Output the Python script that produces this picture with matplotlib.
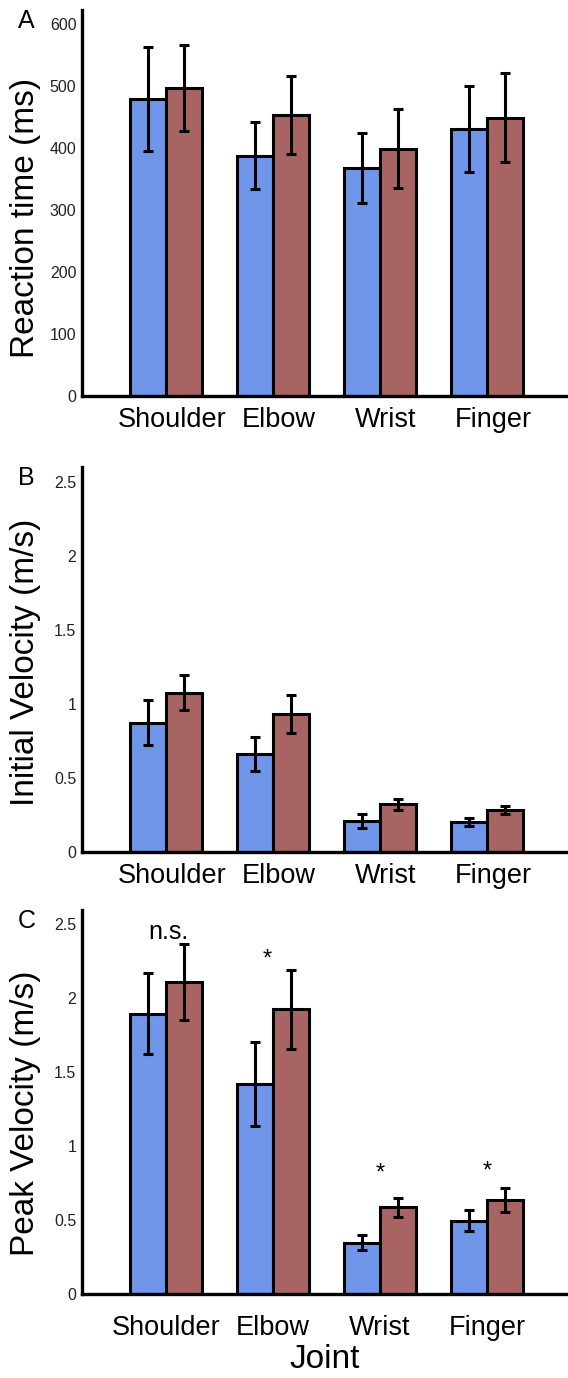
import matplotlib
matplotlib.use("Agg")
import matplotlib.pyplot as plt
import matplotlib.transforms as mtransforms
import numpy as np

plt.rcParams['font.family'] = ['Liberation Sans', 'DejaVu Sans']

# Joints and two conditions per joint
joints = ["Shoulder", "Elbow", "Wrist", "Finger"]

rt_blue = [478, 387, 367, 430]
rt_blue_err = [84, 54, 56, 70]
rt_red = [496, 452, 398, 448]
rt_red_err = [70, 63, 64, 72]

iv_blue = [0.872, 0.660, 0.209, 0.199]
iv_blue_err = [0.152, 0.118, 0.048, 0.028]
iv_red = [1.074, 0.930, 0.320, 0.282]
iv_red_err = [0.120, 0.130, 0.036, 0.025]

pv_blue = [1.896, 1.419, 0.349, 0.498]
pv_blue_err = [0.274, 0.283, 0.053, 0.073]
pv_red = [2.108, 1.926, 0.588, 0.637]
pv_red_err = [0.257, 0.267, 0.064, 0.079]

# significance marks for peak velocity (text, x in joint units, baseline y)
pv_marks = ["n.s.", "*", "*", "*"]
mark_x = [0.02, 0.944, 2.0, 3.0]
mark_y = [2.40, 2.222, 0.776, 0.789]

BLUE = "#7096ea"
RED = "#a86462"

W, H = 568, 1378
fig = plt.figure(figsize=(W / 100, H / 100), dpi=100)


def panel(rect, blue, blue_err, red, red_err, ylim, ticks, ticklabels,
          ylabel, letter, label_y=0.5):
    ax = fig.add_axes(rect)
    x = np.arange(len(joints))
    bw = 0.336
    common = dict(width=bw, edgecolor="black", linewidth=2.2, zorder=2)
    ax.bar(x - bw / 2, blue, color=BLUE, **common)
    ax.bar(x + bw / 2, red, color=RED, **common)
    eb = dict(fmt="none", ecolor="black", elinewidth=2.2, capsize=3.6, capthick=2.2, zorder=3)
    ax.errorbar(x - bw / 2, blue, yerr=blue_err, **eb)
    ax.errorbar(x + bw / 2, red, yerr=red_err, **eb)
    ax.set_xlim(-0.785, 3.757)
    ax.set_ylim(*ylim)
    ax.set_yticks(ticks)
    ax.set_yticklabels(ticklabels, fontsize=11.5)
    ax.tick_params(axis="y", length=0, pad=4, colors="#222222")
    ax.set_xticks(x)
    ax.set_xticklabels(joints, fontsize=19.5)
    ax.tick_params(axis="x", length=0, pad=8)
    shift = mtransforms.ScaledTranslation(6 / 100, 0, fig.dpi_scale_trans)
    for lab in ax.get_xticklabels():
        lab.set_transform(lab.get_transform() + shift)
    for s in ("top", "right"):
        ax.spines[s].set_visible(False)
    for s in ("left", "bottom"):
        ax.spines[s].set_linewidth(2.4)
    ax.set_ylabel(ylabel, fontsize=24)
    ax.yaxis.set_label_coords(-0.084, label_y)
    fig.text(0.047, rect[1] + rect[3] - 0.008, letter, fontsize=18, ha="center", va="center")
    return ax


axA = panel([82 / W, 1 - 395.5 / H, 1 - 82 / W, 385.5 / H],
            rt_blue, rt_blue_err, rt_red, rt_red_err,
            (0, 622), [0, 100, 200, 300, 400, 500, 600],
            ["0", "100", "200", "300", "400", "500", "600"],
            "Reaction time (ms)", "A", label_y=0.461)

axB = panel([82 / W, 1 - 851.7 / H, 1 - 82 / W, 385 / H],
            iv_blue, iv_blue_err, iv_red, iv_red_err,
            (0, 2.601), [0, 0.5, 1, 1.5, 2, 2.5],
            ["0", "0.5", "1", "1.5", "2", "2.5"],
            "Initial Velocity (m/s)", "B", label_y=0.492)

axC = panel([82 / W, 1 - 1294.3 / H, 1 - 82 / W, 384.3 / H],
            pv_blue, pv_blue_err, pv_red, pv_red_err,
            (0, 2.597), [0, 0.5, 1, 1.5, 2, 2.5],
            ["0", "0.5", "1", "1.5", "2", "2.5"],
            "Peak Velocity (m/s)", "C", label_y=0.471)
axC.tick_params(axis="x", pad=15)
axC.set_xlabel("Joint", fontsize=24, labelpad=2)

for m, mx, my in zip(pv_marks, mark_x, mark_y):
    axC.text(mx, my, m, ha="center", va="baseline", fontsize=18 if m == "n.s." else 17)

fig.savefig("out.png", dpi=100)
